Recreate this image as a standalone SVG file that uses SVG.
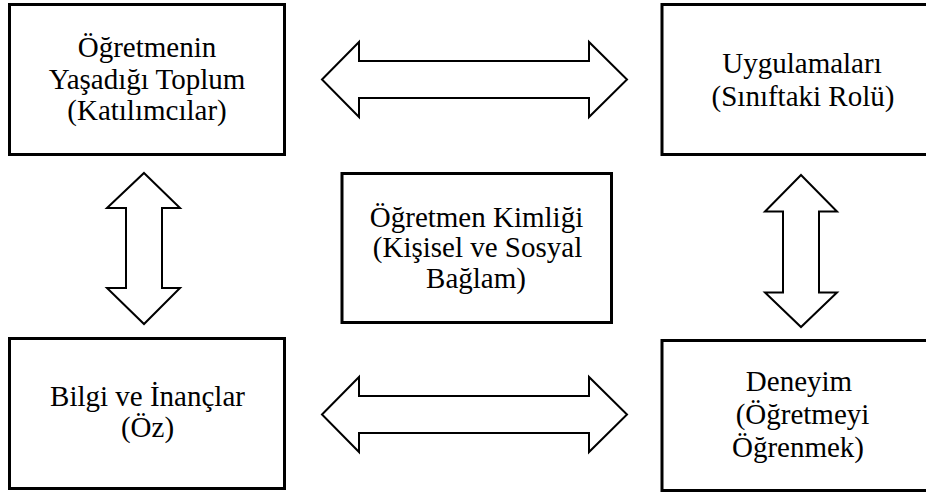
<svg xmlns="http://www.w3.org/2000/svg" width="926" height="495" viewBox="0 0 926 495">
<style>
.box{fill:#fff;stroke:#000;stroke-width:3}
.arr{fill:#fff;stroke:#000;stroke-width:2;stroke-linejoin:miter}
.t{font-family:'Liberation Serif','Times New Roman','DejaVu Serif',serif;font-size:29px;fill:#000;text-anchor:middle}
</style>
<rect width="926" height="495" fill="#fff"/>
<g id="connectors">
<polygon class="arr" points="322,79.5 359,42 359,61 589,61 589,42 627,79.5 589,117 589,98 359,98 359,117"/>
<polygon class="arr" points="322,414.5 359,377 359,396 589,396 589,377 627,414.5 589,452 589,433 359,433 359,452"/>
<polygon class="arr" points="144,173 180,208 162,208 162,288 180,288 144,324 107,288 126,288 126,208 107,208"/>
<polygon class="arr" points="801,175 837,211.5 819,211.5 819,292.5 837,292.5 801,327 765,292.5 783,292.5 783,211.5 765,211.5"/>
</g>
<g id="node-toplum" class="t" font-family="Liberation Serif, serif">
<rect class="box" x="9.5" y="4.5" width="275" height="150"/>
<text x="147" y="56.5">Öğretmenin</text>
<text x="147" y="89">Yaşadığı Toplum</text>
<text x="147" y="120">(Katılımcılar)</text>
</g>
<g id="node-uygulamalari" class="t" font-family="Liberation Serif, serif">
<rect class="box" x="662" y="4.5" width="280" height="150"/>
<text x="802" y="73">Uygulamaları</text>
<text x="803" y="106">(Sınıftaki Rolü)</text>
</g>
<g id="node-kimlik" class="t" font-family="Liberation Serif, serif">
<rect class="box" x="342" y="173.5" width="269.5" height="149"/>
<text x="476.5" y="226.5">Öğretmen Kimliği</text>
<text x="477.5" y="257">(Kişisel ve Sosyal</text>
<text x="476" y="287.5">Bağlam)</text>
</g>
<g id="node-bilgi" class="t" font-family="Liberation Serif, serif">
<rect class="box" x="9.5" y="338.5" width="275" height="150"/>
<text x="147.5" y="406">Bilgi ve İnançlar</text>
<text x="147.5" y="437">(Öz)</text>
</g>
<g id="node-deneyim" class="t" font-family="Liberation Serif, serif">
<rect class="box" x="662" y="340.5" width="280" height="150"/>
<text x="799" y="391">Deneyim</text>
<text x="802.5" y="424">(Öğretmeyi</text>
<text x="798" y="457">Öğrenmek)</text>
</g>
</svg>
